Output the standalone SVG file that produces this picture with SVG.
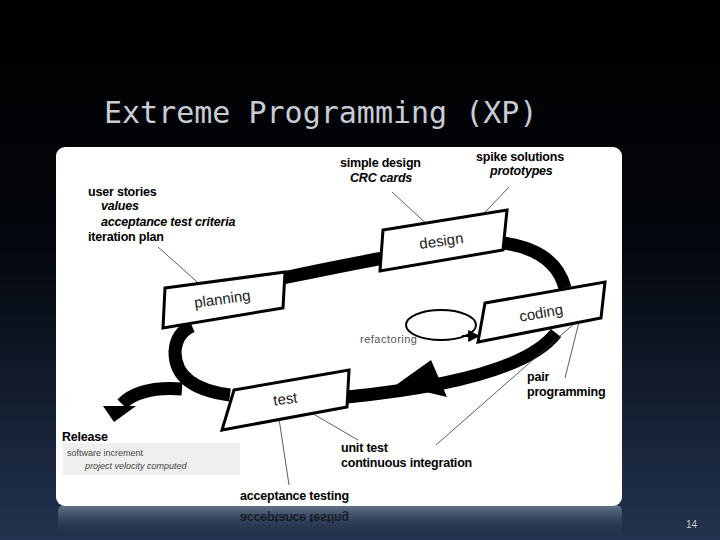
<svg xmlns="http://www.w3.org/2000/svg" width="720" height="540" viewBox="0 0 720 540">
<defs>
<linearGradient id="bg" x1="0" y1="0" x2="0" y2="1"><stop offset="0" stop-color="#000"/><stop offset="0.45" stop-color="#03060c"/><stop offset="1" stop-color="#22334f"/></linearGradient>
<linearGradient id="refl" x1="0" y1="0" x2="0" y2="1"><stop offset="0" stop-color="#8795ad"/><stop offset="1" stop-color="#2a3a55" stop-opacity="0"/></linearGradient>
<marker id="ah" viewBox="0 0 10 10" refX="9" refY="5" markerWidth="6" markerHeight="6" orient="auto"><path d="M0,0L10,5L0,10z" fill="#000"/></marker>
<style>
.b{font-family:"Liberation Sans",Arial,sans-serif;font-weight:bold;font-size:12.5px;fill:#000;letter-spacing:-0.2px}
.i{font-style:italic}
.box{fill:#fff;stroke:#000;stroke-width:3}
.bt{font-family:"Liberation Sans",Arial,sans-serif;font-size:15px;fill:#222}
.band{fill:none;stroke:#000;stroke-width:13}
.lead{stroke:#333;stroke-width:0.8;fill:none}
</style>
</defs>
<rect width="720" height="540" fill="url(#bg)"/>
<text x="104" y="123" font-family="'DejaVu Sans Mono',monospace" font-size="30" fill="#c8ccd4">Extreme Programming (XP)</text>
<rect x="58" y="505" width="564" height="30" rx="6" fill="url(#refl)" opacity="0.7"/>
<text x="0" y="0" transform="translate(240,514) scale(1,-1)" class="b" fill="#333" opacity="0.6">acceptance testing</text>
<rect x="56" y="147" width="566" height="359" rx="9" fill="#fff"/>
<rect x="63" y="443" width="177" height="32" fill="#efefef"/>
<g id="connectors">
<path class="band" d="M283,278 Q330,268 383,258"/>
<path class="band" d="M503,243 Q555,250 565,288"/>
<path class="band" d="M556,333 Q520,380 347,397" stroke-width="16"/>
<polygon points="396,385 431,360 447,397" fill="#000"/>
<path class="band" d="M230,395 Q175,388 175,352 Q176,333 192,326"/>
<path class="band" d="M182,389 Q140,386 122,404"/>
<polygon points="114,422 103,406 136,406" fill="#000"/>
<ellipse cx="441" cy="325" rx="35" ry="15" fill="none" stroke="#000" stroke-width="2"/>
<path d="M462,336 L479,336" stroke="#000" stroke-width="2" marker-end="url(#ah)"/>
<path class="lead" d="M158,247 L204,288"/>
<path class="lead" d="M392,192 L431,228"/>
<path class="lead" d="M509,187 L471,227"/>
<path class="lead" d="M580,318 L565,378"/>
<path class="lead" d="M576,322 L436,445"/>
<path class="lead" d="M303,408 L358,440"/>
<path class="lead" d="M278,412 L289,485"/>
</g>
<g id="planning"><polygon class="box" points="165,288 285,272 283,308 163,328"/><text class="bt" transform="translate(223,304) rotate(-8)" text-anchor="middle">planning</text></g>
<g id="design"><polygon class="box" points="383,230 507,210 503,250 380,271"/><text class="bt" transform="translate(442,246) rotate(-8)" text-anchor="middle">design</text></g>
<g id="coding"><polygon class="box" points="485,303 605,282 601,318 478,342"/><text class="bt" transform="translate(542,318) rotate(-10)" text-anchor="middle">coding</text></g>
<g id="test"><polygon class="box" points="234,390 349,370 347,407 222,430"/><text class="bt" transform="translate(286,404) rotate(-8)" text-anchor="middle">test</text></g>
<g id="labels">
<text x="360" y="343" font-family="'Liberation Sans',Arial,sans-serif" font-size="11" fill="#555" letter-spacing="0.5">refactoring</text>
<text class="b" x="340" y="167">simple design</text>
<text class="b i" x="350" y="182">CRC cards</text>
<text class="b" x="476" y="161">spike solutions</text>
<text class="b i" x="490" y="175">prototypes</text>
<text class="b" x="88" y="196">user stories</text>
<text class="b i" x="101" y="210">values</text>
<text class="b i" x="101" y="226">acceptance test criteria</text>
<text class="b" x="88" y="241">iteration plan</text>
<text class="b" x="527" y="381">pair</text>
<text class="b" x="527" y="396">programming</text>
<text class="b" x="341" y="452">unit test</text>
<text class="b" x="341" y="467">continuous integration</text>
<text class="b" x="240" y="500">acceptance testing</text>
<text class="b" x="62" y="441">Release</text>
<text x="67" y="456" font-family="'Liberation Sans',Arial,sans-serif" font-size="9" fill="#444">software increment</text>
<text x="85" y="469" font-family="'Liberation Sans',Arial,sans-serif" font-size="9" font-style="italic" fill="#444">project velocity computed</text>
</g>
<text x="686" y="528" font-family="'Liberation Sans',Arial,sans-serif" font-size="10" fill="#c8ccd4">14</text>
</svg>
